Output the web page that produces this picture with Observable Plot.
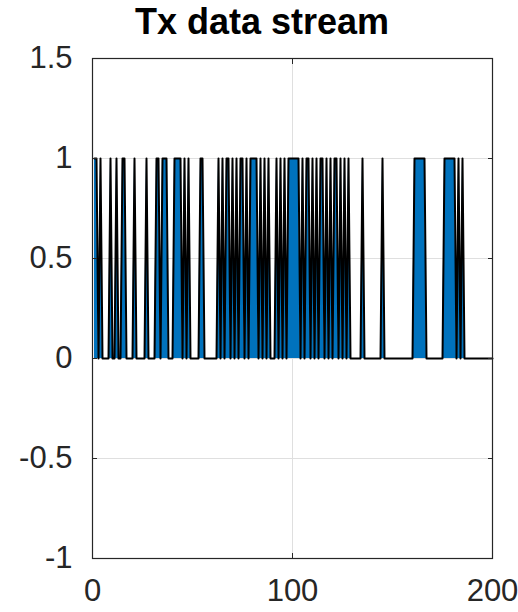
<!DOCTYPE html>
<html>
<head>
<meta charset="utf-8">
<script src="https://cdn.jsdelivr.net/npm/d3@7"></script>
<script src="https://cdn.jsdelivr.net/npm/@observablehq/plot@0.6"></script>
<style>
  html, body { margin: 0; padding: 0; background: #fff; }
  #wrap { position: relative; width: 518px; height: 612px; }
  #title { position: absolute; left: 0; top: 2px; width: 524px; text-align: center;
           font-family: "Liberation Sans", Arial, sans-serif; font-weight: bold; font-size: 36px;
           line-height: 40px; color: #000; }
</style>
</head>
<body>
<div id="wrap"><div id="title">Tx data stream</div></div>
<script>
// Transmitted bits, sample index 1..200
const bits = [
  1,1,0,1,0,0,0,0,1,0,
  0,1,0,0,1,1,0,0,0,0,
  1,0,0,0,0,0,1,0,0,0,
  0,1,1,0,1,1,1,0,0,0,
  1,1,1,1,0,1,0,1,0,0,
  0,0,0,1,1,0,0,0,0,0,
  0,0,1,0,1,0,1,1,0,1,
  0,1,0,1,1,0,1,0,1,1,
  1,1,0,1,0,1,0,1,0,0,
  0,1,0,1,0,1,0,1,1,1,
  1,1,1,0,1,0,1,1,0,1,
  0,1,0,1,1,0,1,0,1,0,
  1,1,0,1,0,1,0,1,0,0,
  0,0,0,0,1,0,0,0,0,0,
  0,0,0,0,1,0,0,0,0,0,
  0,0,0,0,0,0,0,0,0,0,
  1,1,1,1,1,1,0,0,0,0,
  0,0,0,0,0,1,1,1,1,1,
  1,0,1,0,1,0,0,0,0,0,
  0,0,0,0,0,0,0,0,0,0
];
const xTicks = [0, 100, 200];
const yTicks = [-1, -0.5, 0, 0.5, 1, 1.5];
const titleText = "Tx data stream";

const data = bits.map((v, i) => ({i: i + 1, v}));
const ink = "#262626";

const chart = Plot.plot({
  width: 518,
  height: 612,
  marginLeft: 92,
  marginRight: 26,
  marginTop: 58,
  marginBottom: 54,
  style: {fontFamily: "'Liberation Sans', Arial, sans-serif", fontSize: "31px", color: ink, background: "#fff"},
  x: {domain: [0, 200], ticks: xTicks, label: null},
  y: {domain: [-1, 1.5], ticks: yTicks, label: null},
  marks: [
    Plot.gridX(xTicks, {stroke: "#dfdfdf", strokeOpacity: 1}),
    Plot.gridY(yTicks, {stroke: "#dfdfdf", strokeOpacity: 1}),
    Plot.areaY(data, {x: "i", y1: 0, y2: "v", fill: "#0072BD", curve: "linear"}),
    Plot.lineY(data, {x: "i", y: "v", stroke: "#000", strokeWidth: 2}),
    Plot.frame({stroke: ink, strokeWidth: 1.2}),
    Plot.axisX(xTicks, {anchor: "bottom", tickSize: 0, tickPadding: 20, fill: ink, label: null, tickFormat: d => String(d)}),
    Plot.axisY(yTicks, {anchor: "left", tickSize: 0, tickPadding: 20, fill: ink, label: null, tickFormat: d => String(d)}),
    Plot.axisX(xTicks, {anchor: "bottom", tickSize: -5, text: null, label: null, stroke: ink}),
    Plot.axisX(xTicks, {anchor: "top", tickSize: -5, text: null, label: null, stroke: ink}),
    Plot.axisY(yTicks, {anchor: "left", tickSize: -5, text: null, label: null, stroke: ink}),
    Plot.axisY(yTicks, {anchor: "right", tickSize: -5, text: null, label: null, stroke: ink})
  ]
});
document.getElementById("wrap").appendChild(chart);
document.getElementById("title").textContent = titleText;
</script>
</body>
</html>
